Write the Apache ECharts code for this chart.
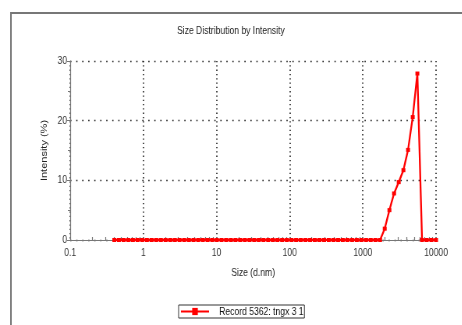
<!DOCTYPE html>
<html>
<head>
<meta charset="utf-8">
<script src="https://cdn.jsdelivr.net/npm/echarts@6/dist/echarts.min.js"></script>
<style>
html,body{margin:0;padding:0;background:#fff;overflow:hidden;width:462px;height:325px;}
#wrap{width:462px;height:325px;overflow:hidden;position:relative;}
#c{width:592px;height:325px;transform:scaleX(0.78);transform-origin:0 0;position:absolute;left:0;top:0;}
</style>
</head>
<body>
<div id="wrap"><div id="c"></div></div>
<script>
// Size bins (d.nm) - standard 70 log-spaced bins
var sizes = [0.4, 0.4632, 0.5365, 0.6213, 0.7195, 0.8332, 0.9649, 1.117, 1.294, 1.499,
  1.736, 2.01, 2.328, 2.696, 3.122, 3.615, 4.187, 4.849, 5.615, 6.503,
  7.531, 8.721, 10.1, 11.7, 13.54, 15.69, 18.17, 21.04, 24.36, 28.21,
  32.67, 37.84, 43.82, 50.75, 58.77, 68.06, 78.82, 91.28, 105.7, 122.4,
  141.8, 164.2, 190.1, 220.2, 255.0, 295.3, 342.0, 396.1, 458.7, 531.2,
  615.1, 712.4, 825.0, 955.4, 1106, 1281, 1484, 1718, 1990, 2305,
  2669, 3091, 3580, 4145, 4801, 5560, 6439, 7456, 8635, 10000];
// Intensity (%) per bin
var intensity = [0,0,0,0,0,0,0,0,0,0,
  0,0,0,0,0,0,0,0,0,0,
  0,0,0,0,0,0,0,0,0,0,
  0,0,0,0,0,0,0,0,0,0,
  0,0,0,0,0,0,0,0,0,0,
  0,0,0,0,0,0,0,0,1.9,5.0,
  7.8,9.7,11.7,15.1,20.6,27.9,0,0,0,0];
var xMinorTicks = [0.2,0.3,0.4,0.5,0.6,0.7,0.8,0.9,2,3,4,5,6,7,8,9,20,30,40,50,60,70,80,90,
  200,300,400,500,600,700,800,900,2000,3000,4000,5000,6000,7000,8000,9000];
var seriesName = 'Record 5362: tngx 3 1';

var font = "'Liberation Sans', Arial, sans-serif";
var points = sizes.map(function (s, i) { return [s, intensity[i]]; });

var chart = echarts.init(document.getElementById('c'), null, {renderer: 'canvas'});
chart.setOption({
  animation: false,
  backgroundColor: '#fff',
  graphic: [{
    type: 'rect', silent: true,
    shape: {x: 14, y: 13, width: 600, height: 330},
    style: {fill: 'none', stroke: '#777', lineWidth: 2}
  }],
  title: {
    text: 'Size Distribution by Intensity',
    left: 'center', top: 20,
    textStyle: {fontFamily: font, fontSize: 11, fontWeight: 'normal', color: '#222'}
  },
  grid: {left: 90, right: 33, top: 61, bottom: 85, containLabel: false},
  legend: {
    data: [seriesName],
    left: 229, top: 305,
    padding: [1, 1, 1, 2],
    itemWidth: 36, itemHeight: 9,
    borderColor: '#333', borderWidth: 1,
    textStyle: {fontFamily: font, fontSize: 11, color: '#111', padding: [0, 0, 0, 8]}
  },
  xAxis: [{
    type: 'log', logBase: 10, min: 0.1, max: 10000,
    name: 'Size (d.nm)', nameLocation: 'middle', nameGap: 27,
    nameTextStyle: {fontFamily: font, fontSize: 11, color: '#222'},
    axisLine: {show: true, lineStyle: {color: '#777', width: 1}},
    axisTick: {show: false},
    axisLabel: {fontFamily: font, fontSize: 11, color: '#333', margin: 7,
      formatter: function (v) { return String(v); }},
    splitLine: {show: true, lineStyle: {color: '#222', width: 1.6, type: [1.3, 3]}},
    minorSplitLine: {show: false}
  }, {
    type: 'log', logBase: 10, min: 0.1, max: 10000, position: 'bottom',
    axisLine: {show: false},
    axisLabel: {show: false},
    splitLine: {show: false},
    axisTick: {show: true, inside: true, length: 3, customValues: xMinorTicks,
      lineStyle: {color: '#777', width: 1.2}}
  }],
  yAxis: {
    type: 'value', min: 0, max: 30, interval: 10,
    name: 'Intensity (%)', nameLocation: 'middle', nameGap: 14, nameRotate: 90,
    nameTextStyle: {fontFamily: font, fontSize: 11, color: '#222'},
    axisLine: {show: true, lineStyle: {color: '#777', width: 1.2}},
    axisTick: {show: true, length: 4, lineStyle: {color: '#777'}},
    minorTick: {show: true, splitNumber: 2, length: 3, lineStyle: {color: '#777'}},
    axisLabel: {fontFamily: font, fontSize: 11, color: '#333', margin: 4},
    splitLine: {show: true, lineStyle: {color: '#222', width: 1.3, type: [1.6, 6.1]}}
  },
  series: [{
    name: seriesName,
    type: 'line',
    data: points,
    symbol: 'rect', symbolSize: [5, 4],
    showAllSymbol: true,
    itemStyle: {color: '#ff0000'},
    lineStyle: {color: '#ff0000', width: 2.3},
    z: 5
  }]
});
</script>
</body>
</html>
